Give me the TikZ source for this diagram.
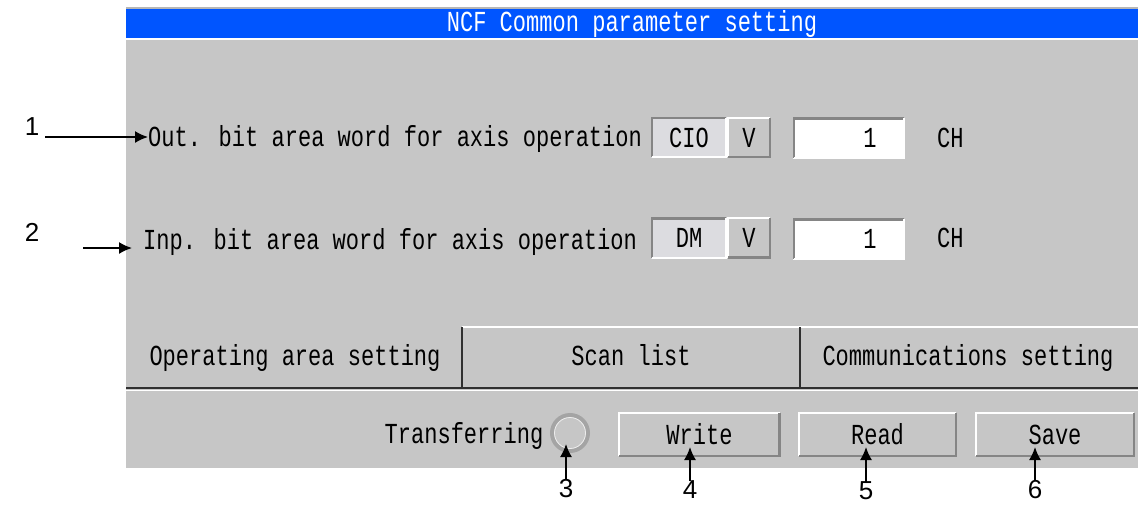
\documentclass[tikz,border=0pt]{standalone}
\usepackage{fontspec}
\setmainfont{Liberation Sans}
\newfontfamily\uifont[FakeStretch=0.76]{Liberation Mono}
\usetikzlibrary{arrows.meta,calc}
\definecolor{panelgray}{HTML}{C6C6C6}
\definecolor{titleblue}{HTML}{0055FF}
\definecolor{fieldgray}{HTML}{DCDCE0}
\definecolor{edgedark}{HTML}{858585}
\definecolor{linedark}{HTML}{303030}
\definecolor{ringgray}{HTML}{A4A4A4}
\newcommand\mkraised[1]{%
  \draw[white, line width=2pt] ([shift={(1pt,1pt)}]#1.south west) -- ([shift={(1pt,-1pt)}]#1.north west) -- ([shift={(-1pt,-1pt)}]#1.north east);
  \draw[edgedark, line width=2.5pt] ([shift={(-1.25pt,-1pt)}]#1.north east) -- ([shift={(-1.25pt,1.25pt)}]#1.south east) -- ([shift={(1pt,1.25pt)}]#1.south west);}
\newcommand\mksunken[1]{%
  \draw[edgedark, line width=2.5pt] ([shift={(1.25pt,1pt)}]#1.south west) -- ([shift={(1.25pt,-1.25pt)}]#1.north west) -- ([shift={(-1pt,-1.25pt)}]#1.north east);
  \draw[white, line width=2pt] ([shift={(-1pt,-1pt)}]#1.north east) -- ([shift={(-1pt,1pt)}]#1.south east) -- ([shift={(1pt,1pt)}]#1.south west);}
\begin{document}
\begin{tikzpicture}[x=1pt,y=-1pt,
  ui/.style={font=\uifont\fontsize{29}{31}\selectfont, inner sep=0pt, text=black},
  num/.style={font=\fontsize{26}{28}\selectfont, inner sep=0pt},
  arr/.style={line width=1.6pt, -{Latex[length=13pt,width=12pt]}},
  btn/.style={rectangle, fill=panelgray, inner sep=0pt, minimum height=45pt},
  fieldbox/.style={rectangle, inner sep=0pt, minimum height=41pt},
  divider/.style={linedark, line width=1.5pt}]
\useasboundingbox (0,0) rectangle (1138,504);
% panel
\fill[white] (0,0) rectangle (1138,504);
\fill[ringgray!80] (126,7) rectangle (1138,9);
\fill[titleblue] (126,9) rectangle (1138,38);
\fill[panelgray] (126,40) rectangle (1138,468);
\node[ui, text=white] (title) at (632,23.5) {NCF Common parameter setting};
% row 1
\node[ui, anchor=base west] (out) at (148,146) {Out. bit area word for axis operation};
\node[fieldbox, fill=fieldgray, minimum width=76pt, font=\uifont\fontsize{29}{31}\selectfont] (cio) at (689,137.5) {CIO};
\mksunken{cio}
\node[fieldbox, fill=panelgray, minimum width=44pt, font=\uifont\fontsize{29}{31}\selectfont] (v1) at (749,137.5) {V};
\mkraised{v1}
\node[fieldbox, fill=white, minimum width=112pt] (val1) at (849,138) {};
\mksunken{val1}
\node[ui] (val1t) at (870,138) {1};
\node[ui, anchor=west] (ch1) at (937,137.5) {CH};
% row 2
\node[ui, anchor=base west] (inp) at (143,249) {Inp. bit area word for axis operation};
\node[fieldbox, fill=fieldgray, minimum width=76pt, font=\uifont\fontsize{29}{31}\selectfont] (dm) at (689,238) {DM};
\mksunken{dm}
\node[fieldbox, fill=panelgray, minimum width=44pt, font=\uifont\fontsize{29}{31}\selectfont] (v2) at (749,238) {V};
\mkraised{v2}
\node[fieldbox, fill=white, minimum width=112pt] (val2) at (849,239) {};
\mksunken{val2}
\node[ui] (val2t) at (870,239) {1};
\node[ui, anchor=west] (ch2) at (937,238) {CH};
% tabs
\draw[white, line width=1.5pt] (462,327) -- (1138,327);
\draw[divider] (462,327) -- (462,387);
\draw[divider] (800,327) -- (800,387);
\draw[linedark, line width=2pt] (126,388) -- (1138,388);
\draw[white, line width=1pt] (126,390.5) -- (1138,390.5);
\node[ui, anchor=base] (tab1) at (295,365) {Operating area setting};
\node[ui, anchor=base] (tab2) at (631,365) {Scan list};
\node[ui, anchor=base] (tab3) at (968,365) {Communications setting};
% bottom bar
\node[ui, anchor=base] (trans) at (464,443) {Transferring};
\node[circle, draw=ringgray, line width=4pt, minimum size=36pt, inner sep=0pt] (lamp) at (570,433) {};
\draw[white!80!ringgray, line width=0.8pt] (lamp.center) circle (15.5pt);
\node[btn, minimum width=162pt, font=\uifont\fontsize{29}{31}\selectfont] (write) at (699.5,434.5) {Write};
\mkraised{write}
\node[btn, minimum width=159pt, font=\uifont\fontsize{29}{31}\selectfont] (read) at (877.5,434.5) {Read};
\mkraised{read}
\node[btn, minimum width=160pt, font=\uifont\fontsize{29}{31}\selectfont] (save) at (1055,434.5) {Save};
\mkraised{save}
% callouts
\node[num] (n1) at (32,127) {1};
\node[num] (n2) at (32,232) {2};
\node[num] (n3) at (566,489) {3};
\node[num] (n4) at (690,490) {4};
\node[num] (n5) at (866,491) {5};
\node[num] (n6) at (1035,490) {6};
\coordinate (s1) at (45,137);
\coordinate (s2) at (83,248);
\coordinate (e2) at (132,248);
\coordinate (t3) at (566,444);
\coordinate (t4) at (690,447);
\coordinate (t5) at (866,447);
\coordinate (t6) at (1035,447);
\draw[arr] (s1) -- (s1 -| out.west);
\draw[arr] (s2) -- (e2);
\draw[arr] (n3.north) -- (t3);
\draw[arr] (n4.north) -- (t4);
\draw[arr] (n5.north) -- (t5);
\draw[arr] (n6.north) -- (t6);
\end{tikzpicture}
\end{document}
